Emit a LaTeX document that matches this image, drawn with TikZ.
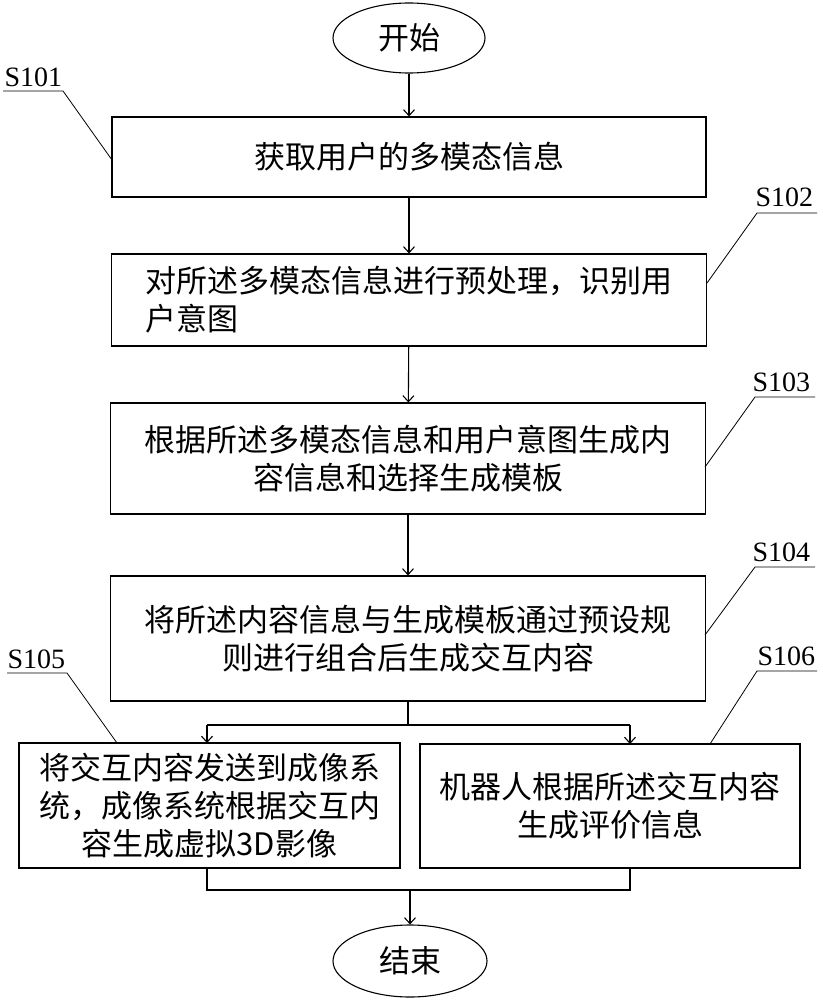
\documentclass[tikz,border=0pt]{standalone}
\usepackage{fontspec}
\setmainfont{Liberation Serif}
\newfontfamily\cjk{Noto Sans CJK SC}
\usetikzlibrary{shapes.geometric,arrows.meta}
\begin{document}
\begin{tikzpicture}[x=1pt,y=-1pt,
  line width=1.1pt,
  box/.style={draw, rectangle, inner sep=0pt, align=center, font=\cjk\fontsize{31}{38}\selectfont},
  term/.style={draw, ellipse, minimum width=152pt, minimum height=70pt, inner sep=0pt, font=\cjk\fontsize{31}{38}\selectfont},
  lab/.style={anchor=base west, inner sep=0pt, font=\fontsize{28}{30}\selectfont},
  thin line/.style={line width=0.8pt},
  arr/.style={-{Straight Barb[length=6pt,width=11pt]}}
]
\useasboundingbox (0,0) rectangle (822,1000);

% terminals
\node[term] (start) at (409,38) {开始};
\node[term, minimum width=154pt, minimum height=72pt] (end) at (410,961) {结束};

% process boxes
\node[box, minimum width=594pt, minimum height=80pt] (b1) at (409,157) {获取用户的多模态信息};
\node[box, align=left, minimum width=595pt, minimum height=92pt] (b2) at (409,300) {对所述多模态信息进行预处理，识别用\\户意图};
\node[box, minimum width=595pt, minimum height=111pt] (b3) at (408,458.5) {根据所述多模态信息和用户意图生成内\\容信息和选择生成模板};
\node[box, minimum width=595pt, minimum height=125pt] (b4) at (408,638.5) {将所述内容信息与生成模板通过预设规\\则进行组合后生成交互内容};
\node[box, minimum width=381pt, minimum height=125pt] (b5) at (209.5,805.5) {将交互内容发送到成像系\\统，成像系统根据交互内\\容生成虚拟3D影像};
\node[box, minimum width=380pt, minimum height=124pt] (b6) at (610,806) {机器人根据所述交互内容\\生成评价信息};

% junction coordinates
\coordinate (j1) at (408,725);
\coordinate (j5) at (207,725);
\coordinate (j6) at (630,725);
\coordinate (in5) at (207,743);
\coordinate (in6) at (630,744);
\coordinate (out5) at (207,868);
\coordinate (out6) at (630,868);
\coordinate (m5) at (207,890);
\coordinate (m6) at (630,890);
\coordinate (mj) at (410,890);

% connectors
\draw[arr] (start) -- (b1);
\draw[arr] (b1) -- (b2);
\draw[arr] (b2) -- (b3);
\draw[arr] (b3) -- (b4);
\draw (b4.south) -- (j1);
\draw (j5) -- (j6);
\draw[arr] (j5) -- (in5);
\draw[arr] (j6) -- (in6);
\draw (out5) -- (m5) -- (m6) -- (out6);
\draw[arr] (mj) -- (end);

% step labels
\node[lab] (s1) at (4,87) {S101};
\node[lab] (s2) at (755,207) {S102};
\node[lab] (s3) at (752,391) {S103};
\node[lab] (s4) at (752,561) {S104};
\node[lab] (s5) at (7,668) {S105};
\node[lab] (s6) at (757,665) {S106};

\coordinate (u1a) at (3,91);   \coordinate (u1b) at (63,91);
\coordinate (u2a) at (757,213); \coordinate (u2b) at (817,213);
\coordinate (u3a) at (755,397); \coordinate (u3b) at (815,397);
\coordinate (u4a) at (755,567); \coordinate (u4b) at (815,567);
\coordinate (u5a) at (7,673);  \coordinate (u5b) at (67,673);
\coordinate (u6a) at (757,671); \coordinate (u6b) at (817,671);

\coordinate (t1) at (112,160);
\coordinate (t2) at (707,283);
\coordinate (t3) at (705,467);
\coordinate (t4) at (705,635);
\coordinate (t5) at (117,743);
\coordinate (t6) at (710,744);

\draw[thin line] (u1a) -- (u1b) -- (t1);
\draw[thin line] (u2b) -- (u2a) -- (t2);
\draw[thin line] (u3b) -- (u3a) -- (t3);
\draw[thin line] (u4b) -- (u4a) -- (t4);
\draw[thin line] (u5a) -- (u5b) -- (t5);
\draw[thin line] (u6b) -- (u6a) -- (t6);
\end{tikzpicture}
\end{document}
